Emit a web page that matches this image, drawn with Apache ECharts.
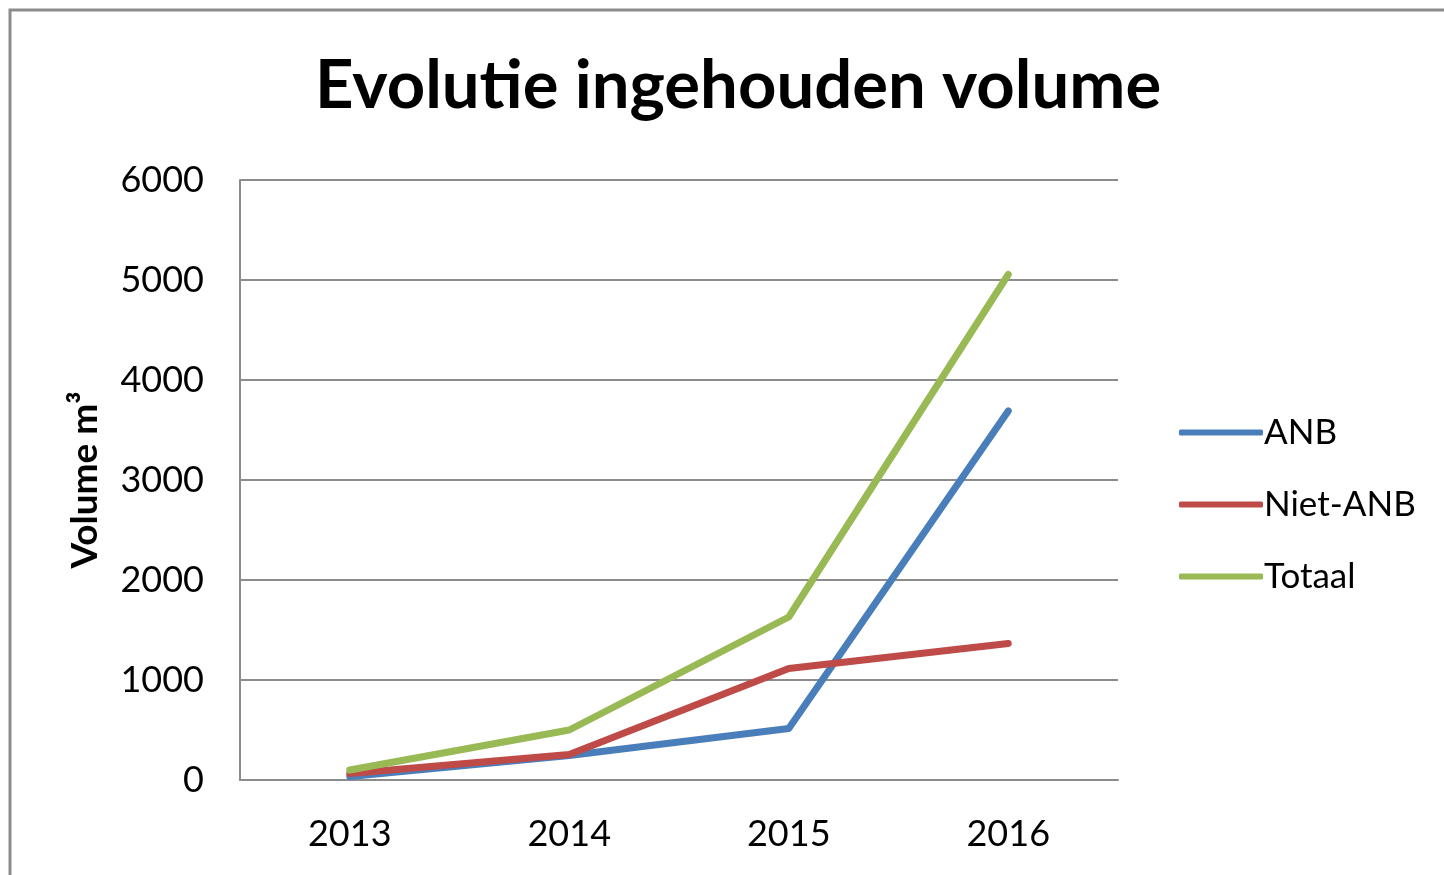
<html>
<head>
    <meta charset="utf-8">
    <script src="https://cdn.jsdelivr.net/npm/echarts@6/dist/echarts.min.js"></script>
    <style>
        html, body, #main {
            width: 100%;
            height: 100%;
            margin: 0;
            background: #fff;
        }
    </style>
</head>
<body>
<div id="main"></div>
<script>
    // values
    var years = ['2013', '2014', '2015', '2016'];
    var anb = [35, 245, 515, 3690];
    var nietAnb = [65, 255, 1115, 1365];
    var totaal = [100, 500, 1630, 5055];

    var font = 'Lato, "Open Sans", sans-serif';

    var chart = echarts.init(document.getElementById('main'));

    var option = {
        backgroundColor: '#fff',
        animation: false,
        textStyle: {fontFamily: font},
        title: {
            text: 'Evolutie ingehouden volume',
            left: 310,
            top: 48,
            textStyle: {
                fontFamily: font,
                fontSize: 67,
                fontWeight: 'bold',
                color: '#000'
            }
        },
        // chart frame (only left and top edges visible)
        graphic: [{
            type: 'rect',
            shape: {x: 10, y: 10, width: 1500, height: 1000},
            style: {fill: 'none', stroke: '#8c8c8c', lineWidth: 3},
            silent: true
        }],
        legend: {
            orient: 'vertical',
            left: 1174,
            top: 410,
            itemWidth: 84,
            itemHeight: 6,
            itemGap: 37,
            icon: 'roundRect',
            textStyle: {fontFamily: font, fontSize: 35, color: '#000', padding: [0, 0, 0, -4]},
            data: ['ANB', 'Niet-ANB', 'Totaal']
        },
        grid: {
            left: 240,
            right: 326,
            top: 180,
            bottom: 95
        },
        xAxis: {
            type: 'category',
            data: years,
            boundaryGap: true,
            axisLine: {lineStyle: {color: '#8c8c8c', width: 2}},
            axisTick: {show: false},
            axisLabel: {fontFamily: font, fontSize: 36, color: '#000', margin: 36}
        },
        yAxis: {
            type: 'value',
            min: 0,
            max: 6000,
            interval: 1000,
            name: 'Volume m³',
            nameLocation: 'middle',
            nameGap: 136,
            nameTextStyle: {fontFamily: font, fontSize: 37, fontWeight: 'bold', color: '#000'},
            axisLine: {show: true, lineStyle: {color: '#8c8c8c', width: 2}},
            axisTick: {show: false},
            axisLabel: {
                fontFamily: font, fontSize: 36, color: '#000', margin: 36,
                formatter: function (v) { return String(v); }
            },
            splitLine: {lineStyle: {color: '#8c8c8c', width: 2}}
        },
        series: [{
            name: 'ANB',
            type: 'line',
            data: anb,
            symbol: 'none',
            color: '#4a7ebb',
            lineStyle: {width: 7, cap: 'round', join: 'round'}
        }, {
            name: 'Niet-ANB',
            type: 'line',
            data: nietAnb,
            symbol: 'none',
            color: '#be4b48',
            lineStyle: {width: 7, cap: 'round', join: 'round'}
        }, {
            name: 'Totaal',
            type: 'line',
            data: totaal,
            symbol: 'none',
            color: '#98b954',
            lineStyle: {width: 7, cap: 'round', join: 'round'}
        }]
    };

    chart.setOption(option);
</script>
</body>
</html>
